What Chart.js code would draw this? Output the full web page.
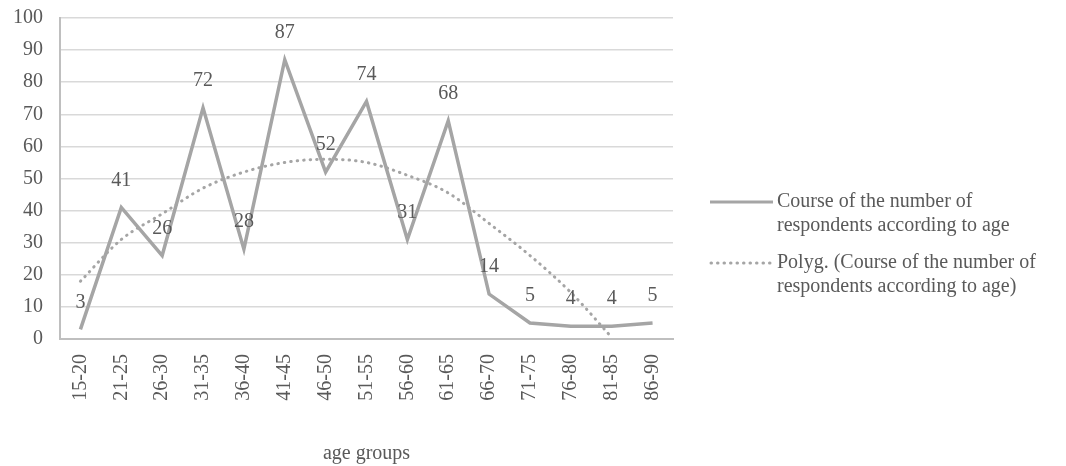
<!DOCTYPE html>
<html>
<head>
<meta charset="utf-8">
<title>Respondents by age</title>
<script src="https://cdn.jsdelivr.net/npm/chart.js"></script>
<style>
    html, body { margin: 0; padding: 0; background: #ffffff; }
    #wrap { width: 1066px; height: 466px; position: relative; }
</style>
</head>
<body>
<div id="wrap"><canvas id="ageChart"></canvas></div>
<script>
// Datos
const ageGroups = ['15-20', '21-25', '26-30', '31-35', '36-40', '41-45', '46-50', '51-55',
    '56-60', '61-65', '66-70', '71-75', '76-80', '81-85', '86-90'];
const respondents = [3, 41, 26, 72, 28, 87, 52, 74, 31, 68, 14, 5, 4, 4, 5];
// línea de tendencia
const trendValues = [18, 31, 39, 47, 52, 55, 56, 55, 51, 45.5, 36, 26, 14.5, 0.5, null];
const yTicks = [0, 10, 20, 30, 40, 50, 60, 70, 80, 90, 100];

const seriesName = ['Course of the number of', 'respondents according to age'];
const trendName = ['Polyg. (Course of the number of', 'respondents according to age)'];
const axisTitle = 'age groups';

const textColor = '#595959';
const lineColor = '#a5a5a5';
const fontFamily = '"Liberation Serif", "Times New Roman", serif';

document.addEventListener('DOMContentLoaded', function() {
    const ctx = document.getElementById('ageChart').getContext('2d');

    // Etiquetas de datos encima de cada punto
    const valueLabels = {
        id: 'valueLabels',
        afterDatasetsDraw(chart) {
            const c = chart.ctx;
            const meta = chart.getDatasetMeta(0);
            c.save();
            c.font = '20px ' + fontFamily;
            c.fillStyle = textColor;
            c.textAlign = 'center';
            c.textBaseline = 'middle';
            meta.data.forEach(function(pt, i) {
                c.fillText(String(respondents[i]), pt.x, pt.y - 27);
            });
            c.restore();
        }
    };

    // Leyenda a la derecha
    const sideLegend = {
        id: 'sideLegend',
        afterDraw(chart) {
            const c = chart.ctx;
            c.save();
            c.font = '20px ' + fontFamily;
            c.fillStyle = textColor;
            c.textAlign = 'left';
            c.textBaseline = 'middle';
            c.strokeStyle = lineColor;
            c.lineWidth = 3;

            c.beginPath();
            c.moveTo(710, 202);
            c.lineTo(773, 202);
            c.stroke();
            c.fillText(seriesName[0], 777, 202);
            c.fillText(seriesName[1], 777, 226);

            c.setLineDash([0.5, 6]);
            c.lineCap = 'round';
            c.beginPath();
            c.moveTo(711, 263);
            c.lineTo(770, 263);
            c.stroke();
            c.fillText(trendName[0], 777, 263);
            c.fillText(trendName[1], 777, 287);
            c.restore();
        }
    };

    new Chart(ctx, {
        type: 'line',
        data: {
            labels: ageGroups,
            datasets: [{
                label: seriesName.join(' '),
                data: respondents,
                borderColor: lineColor,
                borderWidth: 3.5,
                pointRadius: 0,
                tension: 0,
                order: 1
            }, {
                label: trendName.join(' '),
                data: trendValues,
                borderColor: lineColor,
                borderWidth: 3,
                borderDash: [0.5, 6],
                borderCapStyle: 'round',
                pointRadius: 0,
                cubicInterpolationMode: 'monotone',
                spanGaps: false,
                order: 2
            }]
        },
        options: {
            responsive: true,
            maintainAspectRatio: false,
            animation: false,
            layout: { padding: { top: 18, right: 393, left: 0, bottom: 0 } },
            plugins: {
                legend: { display: false },
                tooltip: { enabled: false }
            },
            scales: {
                x: {
                    offset: true,
                    grid: { display: false, drawTicks: false },
                    border: { display: true, color: '#bfbfbf', width: 2 },
                    ticks: {
                        color: textColor,
                        font: { family: fontFamily, size: 20 },
                        minRotation: 90,
                        maxRotation: 90,
                        padding: 15,
                        autoSkip: false
                    },
                    title: {
                        display: true,
                        text: axisTitle,
                        color: textColor,
                        font: { family: fontFamily, size: 20 },
                        padding: { top: 0, bottom: 0 }
                    },
                    afterFit(scale) {
                        scale.height = 127;
                        scale.paddingLeft = 0;
                        scale.paddingRight = 0;
                    }
                },
                y: {
                    min: 0,
                    max: 100,
                    grid: { color: '#d9d9d9', lineWidth: 1.5, drawTicks: false },
                    border: { display: true, color: '#bfbfbf', width: 2 },
                    ticks: {
                        stepSize: 10,
                        color: textColor,
                        font: { family: fontFamily, size: 20 },
                        padding: 17,
                        callback: function(v) { return yTicks.includes(v) ? v : ''; }
                    },
                    afterFit(scale) {
                        scale.width = 60;
                        scale.paddingTop = 0;
                        scale.paddingBottom = 0;
                    }
                }
            }
        },
        plugins: [valueLabels, sideLegend]
    });
});
</script>
</body>
</html>
